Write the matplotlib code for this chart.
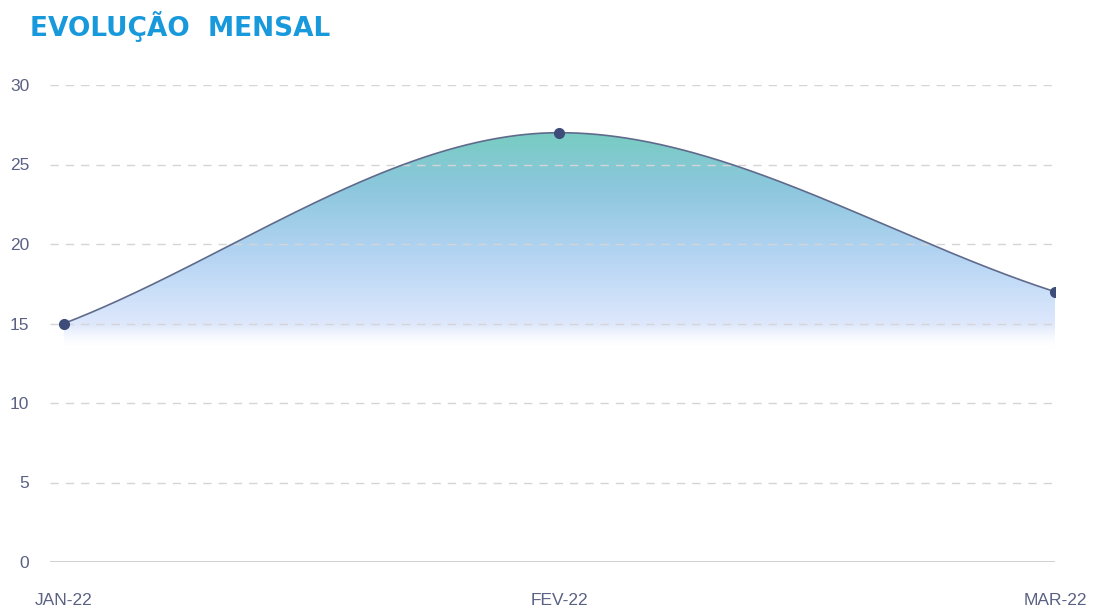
import numpy as np
import matplotlib
matplotlib.use("Agg")
import matplotlib.pyplot as plt
from matplotlib.colors import LinearSegmentedColormap
from matplotlib.patches import Polygon

meses = ["JAN-22", "FEV-22", "MAR-22"]
valores = [15, 27, 17]
yticks = [0, 5, 10, 15, 20, 25, 30]


# monotone cubic interpolation (same as the curve of the original dashboard)
def monotone(x, y, n=300):
    x = np.asarray(x, float)
    y = np.asarray(y, float)
    d = np.diff(y) / np.diff(x)
    m = np.zeros(len(y))
    m[0], m[-1] = d[0], d[-1]
    for i in range(1, len(y) - 1):
        if d[i - 1] * d[i] <= 0:
            m[i] = 0
        else:
            m[i] = (d[i - 1] + d[i]) / 2
    xs, ys = [], []
    for i in range(len(x) - 1):
        h = x[i + 1] - x[i]
        t = np.linspace(0, 1, n)
        h00 = 2 * t**3 - 3 * t**2 + 1
        h10 = t**3 - 2 * t**2 + t
        h01 = -2 * t**3 + 3 * t**2
        h11 = t**3 - t**2
        xs.append(x[i] + t * h)
        ys.append(h00 * y[i] + h10 * h * m[i] + h01 * y[i + 1] + h11 * h * m[i + 1])
    return np.concatenate(xs), np.concatenate(ys)


x = np.arange(len(meses))
xs, ys = monotone(x, valores)

fig = plt.figure(figsize=(10.95, 6.08), dpi=100)
ax = fig.add_axes([50 / 1095, 46 / 608, 1005 / 1095, 477 / 608])
ax.set_xlim(-0.028, 2.0)
ax.set_ylim(0, 30)

# gradient fill under the curve
cmap = LinearSegmentedColormap.from_list("grad", [
    (0.0, (1, 1, 1, 0)),
    (0.12, (0.87, 0.91, 0.99, 1)),
    (0.45, (0.70, 0.83, 0.95, 1)),
    (0.75, (0.55, 0.78, 0.87, 1)),
    (1.0, (0.47, 0.80, 0.76, 1)),
])
base = 13.3
grad = np.linspace(0, 1, 256).reshape(-1, 1)
img = ax.imshow(grad, aspect="auto", cmap=cmap, origin="lower",
                extent=[0, 2, base, 27], zorder=1)
poly = Polygon(np.column_stack([np.r_[xs, 2, 0], np.r_[ys, base, base]]),
               closed=True, transform=ax.transData)
img.set_clip_path(poly)

for v in yticks[1:]:
    ax.axhline(v, color="#d5d5d8", lw=1, ls=(0, (6, 5)), zorder=2)
ax.axhline(0, color="#c8c8cc", lw=1.2, zorder=2)

ax.plot(xs, ys, color="#606b8c", lw=1.2, zorder=3)
ax.plot(x, valores, "o", color="#3e4c7a", ms=7, zorder=4)

for s in ax.spines.values():
    s.set_visible(False)
ax.set_yticks(yticks)
ax.set_xticks(x)
ax.set_xticklabels(meses)
ax.tick_params(length=0, colors="#5a6182", labelsize=12.5)
for lbl in ax.get_xticklabels() + ax.get_yticklabels():
    lbl.set_family("Liberation Sans")
ax.tick_params(axis="y", pad=15)
ax.tick_params(axis="x", pad=22)

fig.text(30 / 1095, 1 - 27 / 608, "EVOLUÇÃO  MENSAL", color="#1899dc",
         fontsize=19, fontweight="bold", family="DejaVu Sans", va="center")

fig.savefig("out.png", dpi=100)
